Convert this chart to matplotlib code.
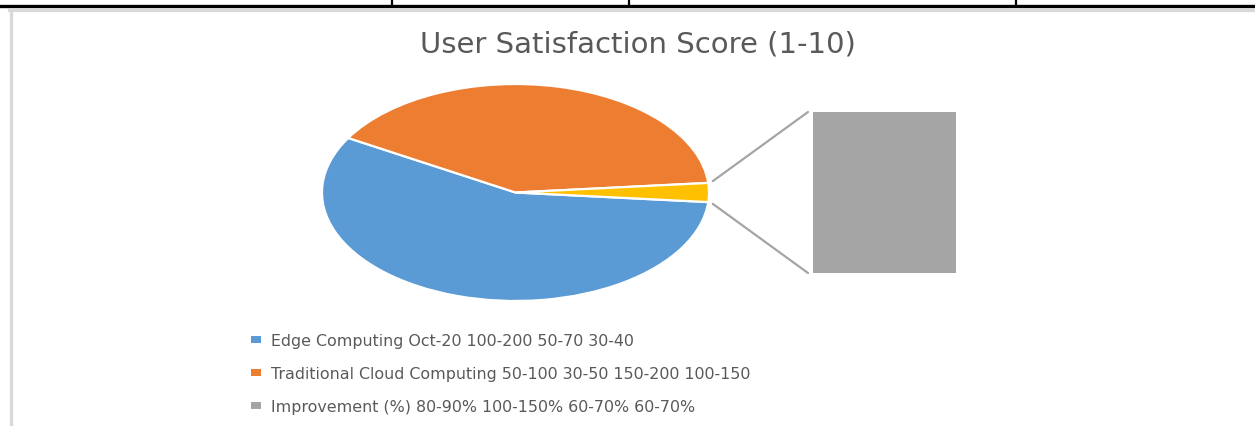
import matplotlib
matplotlib.use("Agg")
import matplotlib.pyplot as plt
from matplotlib.patches import Patch, ConnectionPatch
from matplotlib.lines import Line2D
import numpy as np

# ---- data ----
title = "User Satisfaction Score (1-10)"
categories = [
    "Edge Computing Oct-20 100-200 50-70 30-40",
    "Traditional Cloud Computing 50-100 30-50 150-200 100-150",
    "Improvement (%) 80-90% 100-150% 60-70% 60-70%",
]
values = [8.5, 6.0, 0.42]
series_colors = ["#5B9BD5", "#ED7D31", "#A5A5A5"]
other_color = "#FFC000"

W, H = 1255, 427
fig = plt.figure(figsize=(W / 100, H / 100), dpi=100)
fig.patch.set_facecolor("white")

def fx(px):
    return px / W

def fy(py):
    return 1 - py / H

plt.rcParams["font.family"] = ["DejaVu Sans"]

# ---- page/table decoration ----
fig.add_artist(Line2D([0, 1], [fy(7), fy(7)], color="black", lw=2.4, transform=fig.transFigure))
for xv in [392, 629, 1016]:
    fig.add_artist(Line2D([fx(xv), fx(xv)], [fy(0), fy(7)], color="black", lw=1.6, transform=fig.transFigure))
# chart area border (light gray)
fig.add_artist(Line2D([fx(9), 1], [fy(11), fy(11)], color="#D9D9D9", lw=2.2, transform=fig.transFigure))
fig.add_artist(Line2D([fx(10.5), fx(10.5)], [fy(11), 0], color="#D9D9D9", lw=2.4, transform=fig.transFigure))

# ---- pie (primary plot) ----
ax = fig.add_axes([fx(322), fy(302), fx(709) - fx(322), fy(85) - fy(302)])
pie_vals = [values[0], values[1], sum(values[2:])]
pie_cols = [series_colors[0], series_colors[1], other_color]
frac_other = pie_vals[2] / sum(pie_vals)
start = -180 * frac_other
ax.pie(pie_vals, colors=pie_cols, startangle=start, counterclock=False, radius=1,
       wedgeprops=dict(edgecolor="white", linewidth=1.6))
ax.set_aspect("auto")
ax.set_xlim(-1, 1)
ax.set_ylim(-1, 1)
ax.axis("off")

# ---- bar (secondary plot) ----
ax2 = fig.add_axes([fx(813), fy(274), fx(956) - fx(813), fy(113) - fy(274)])
ax2.bar([0], [values[2]], width=1.0, color=series_colors[2], edgecolor="none")
ax2.set_xlim(-0.5, 0.5)
ax2.set_ylim(0, values[2])
ax2.axis("off")

# connector lines
theta = np.deg2rad(180 * frac_other + 0.8)
for sgn, yb in [(1, 1.0), (-1, 0.0)]:
    pA = (1.025 * np.cos(theta), sgn * 1.025 * np.sin(theta))
    cp = ConnectionPatch(xyA=pA, coordsA=ax.transData, xyB=(-0.035, yb), coordsB=ax2.transAxes,
                         color="#A5A5A5", lw=1.6)
    fig.add_artist(cp)

# ---- title ----
fig.text(fx(638), fy(53), title, ha="center", va="baseline", fontsize=21, color="#595959")

# ---- legend ----
handles = [Patch(facecolor=c, edgecolor="none") for c in series_colors]
leg = fig.legend(handles, categories, loc="center left", bbox_to_anchor=(fx(251), fy(374.5)),
                 frameon=False, fontsize=11.4, labelcolor="#595959", handlelength=0.6,
                 handleheight=0.33, handletextpad=0.68, labelspacing=1.13,
                 borderpad=0, borderaxespad=0)

fig.savefig("out.png", dpi=100, facecolor="white")
